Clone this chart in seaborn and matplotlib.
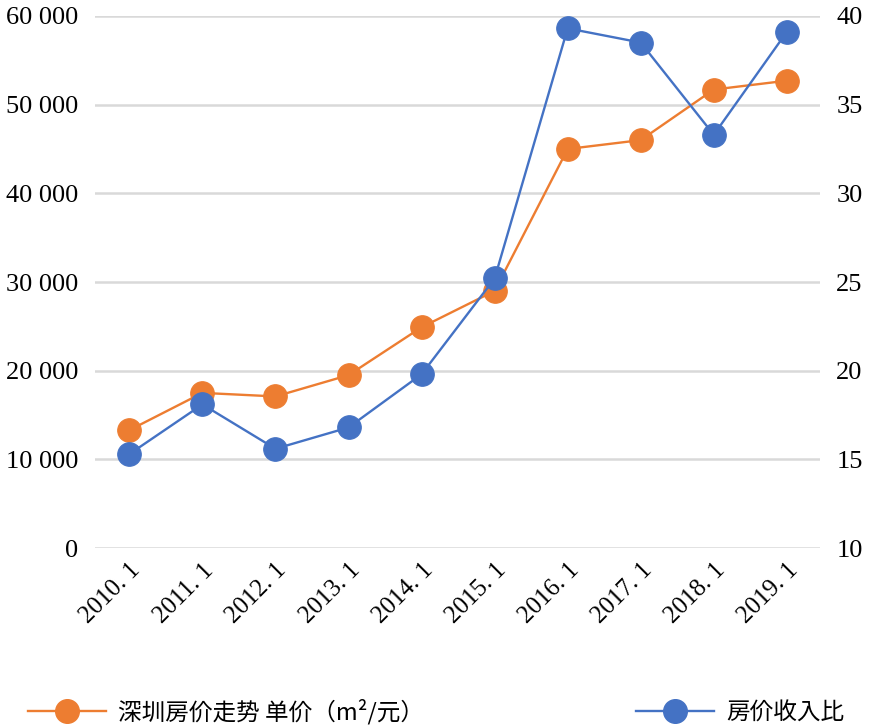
import matplotlib
matplotlib.use("Agg")
import matplotlib.pyplot as plt
import seaborn as sns
import pandas as pd
from matplotlib.ticker import FuncFormatter
from matplotlib.lines import Line2D

years = ["2010. 1","2011. 1","2012. 1","2013. 1","2014. 1","2015. 1","2016. 1","2017. 1","2018. 1","2019. 1"]
price = [13300,17500,17100,19500,24900,29000,45000,46000,51700,52700]
ratio = [15.3,18.1,15.6,16.8,19.8,25.2,39.3,38.5,33.3,39.1]

df = pd.DataFrame({"x": range(len(years)), "price": price, "ratio": ratio})
orange = "#ED7D31"; blue = "#4472C4"
serif = "Liberation Serif"
plt.rcParams["font.family"] = ["Noto Sans CJK SC", "Noto Sans CJK JP", "DejaVu Sans"]

fig = plt.figure(figsize=(8.72, 7.25), dpi=100)
ax = fig.add_axes([0.109, 0.244, 0.831, 0.734])
ax2 = ax.twinx()
sns.lineplot(data=df, x="x", y="price", ax=ax, color=orange, marker="o", markersize=17,
             markeredgecolor=orange, linewidth=1.7)
sns.lineplot(data=df, x="x", y="ratio", ax=ax2, color=blue, marker="o", markersize=17,
             markeredgecolor=blue, linewidth=1.7)
ax.set_ylim(0, 60000); ax2.set_ylim(10, 40)
ax.set_xlim(-0.47, 9.45)
ax.set_yticks(range(0, 60001, 10000))
ax.yaxis.set_major_formatter(FuncFormatter(lambda v, p: f"{int(v):,}".replace(",", " ")))
ax2.set_yticks(range(10, 41, 5))
ax.set_xticks(range(len(years)))
ax.set_xticklabels(years, rotation=45, ha="right", rotation_mode="anchor", fontfamily=serif, fontsize=18)
for lab in ax.get_yticklabels() + ax2.get_yticklabels():
    lab.set_fontfamily(serif); lab.set_fontsize(19)
ax.grid(axis="y", color="#D9D9D9", linewidth=1.8)
ax.set_axisbelow(True)
for a in (ax, ax2):
    for s in a.spines.values():
        s.set_visible(False)
    a.tick_params(length=0)
    a.set_xlabel(""); a.set_ylabel("")
ax.tick_params(axis="y", pad=12)
ax2.tick_params(axis="y", pad=12)
ax.tick_params(axis="x", pad=8)
ax2.set_zorder(ax.get_zorder() + 1)
ax2.patch.set_visible(False)

h = [Line2D([], [], color=orange, marker="o", markersize=17, linewidth=1.7),
     Line2D([], [], color=blue, marker="o", markersize=17, linewidth=1.7)]
fig.legend(h, ["深圳房价走势 单价（m²/元）", "房价收入比"], loc="center", bbox_to_anchor=(0.5, 0.018),
           ncol=2, frameon=False, prop={"family": ["Noto Sans CJK SC", "Noto Sans CJK JP"], "size": 17},
           columnspacing=9, handlelength=3.3, handletextpad=0.5)
fig.savefig("out.png", dpi=100)
